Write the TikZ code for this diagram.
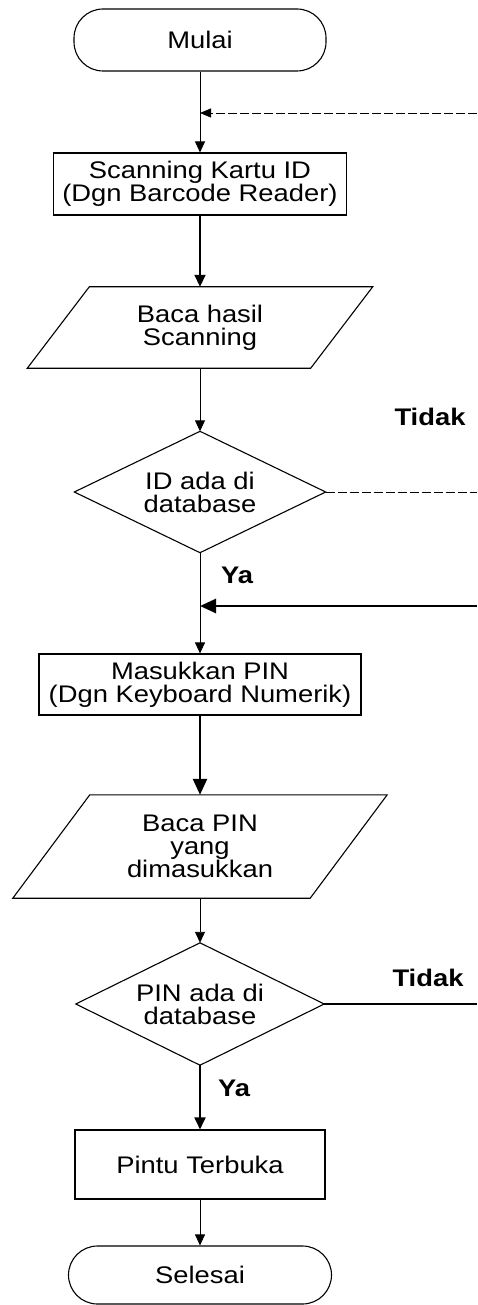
\documentclass[tikz,border=0pt]{standalone}
\usepackage{fontspec}
\setmainfont{Liberation Sans}[FakeStretch=1.14]
\usetikzlibrary{arrows.meta}
\begin{document}
\begin{tikzpicture}[x=1pt,y=-1pt,
  font=\fontsize{24}{23}\selectfont,
  box/.style={draw, line width=1.1pt, align=center, inner sep=0pt},
  term/.style={box, rounded corners=29pt},
  ghost/.style={align=center, inner sep=0pt},
  outline/.style={line width=1.1pt, line join=miter},
  thinarrow/.style={line width=0.9pt, -{Triangle[length=11pt,width=10pt]}},
  medarrow/.style={line width=1.8pt, -{Triangle[length=12pt,width=11pt]}},
  thickarrow/.style={line width=2.6pt, -{Triangle[length=16pt,width=14pt]}},
  backarrow/.style={line width=0.8pt, dash pattern=on 9pt off 3pt, -{Triangle[length=11pt,width=9pt]}},
  backline/.style={line width=0.8pt, dash pattern=on 9pt off 3pt},
  thickline/.style={line width=2.6pt},
  lbl/.style={font=\fontsize{24}{23}\selectfont\bfseries}
]
\useasboundingbox (0,0) rectangle (477,1305);

% nodes
\node[term, minimum width=252pt, minimum height=62pt] (mulai) at (200,40) {Mulai};
\node[box, minimum width=293pt, minimum height=62pt] (scan) at (200,184) {Scanning Kartu ID\\(Dgn Barcode Reader)};
\node[ghost, minimum width=283pt, minimum height=81pt] (bacah) at (200,327.5) {Baca hasil\\Scanning};
\draw[outline] ([xshift=31pt]bacah.north west) -- ([xshift=31pt]bacah.north east)
  -- ([xshift=-31pt]bacah.south east) -- ([xshift=-31pt]bacah.south west) -- cycle;
\node[ghost, minimum width=251pt, minimum height=121pt] (idq) at (200,492) {ID ada di\\database};
\draw[outline] (idq.north) -- (idq.east) -- (idq.south) -- (idq.west) -- cycle;
\node[box, minimum width=322pt, minimum height=61pt] (masuk) at (200,684.5) {Masukkan PIN\\(Dgn Keyboard Numerik)};
\node[ghost, minimum width=297pt, minimum height=103pt] (bacap) at (200,846.5) {Baca PIN\\yang\\dimasukkan};
\draw[outline] ([xshift=38.5pt]bacap.north west) -- ([xshift=38.5pt]bacap.north east)
  -- ([xshift=-38.5pt]bacap.south east) -- ([xshift=-38.5pt]bacap.south west) -- cycle;
\node[ghost, minimum width=248pt, minimum height=122pt] (pinq) at (200,1004) {PIN ada di\\database};
\draw[outline] (pinq.north) -- (pinq.east) -- (pinq.south) -- (pinq.west) -- cycle;
\node[box, minimum width=250pt, minimum height=69pt] (pintu) at (200,1164.5) {Pintu Terbuka};
\node[term, minimum width=263pt, minimum height=58pt] (selesai) at (200,1275) {Selesai};

% labels
\node[lbl] (t1) at (430,417) {Tidak};
\node[lbl] (y1) at (237,575) {Ya};
\node[lbl] (t2) at (428,978) {Tidak};
\node[lbl] (y2) at (234,1088) {Ya};

% free ends
\coordinate (r1) at (477,113); \coordinate (j1) at (200,113);
\coordinate (r2) at (477,492);
\coordinate (r3) at (477,606); \coordinate (j3) at (200,606);
\coordinate (r4) at (477,1004);

% connectors
\draw[thinarrow] (mulai.south) -- (scan.north);
\draw[backarrow] (r1) -- (j1);
\draw[medarrow] (scan.south) -- (bacah.north);
\draw[thinarrow] (bacah.south) -- (idq.north);
\draw[backline] (idq.east) -- (r2);
\draw[thinarrow] (idq.south) -- (masuk.north);
\draw[thickarrow] (r3) -- (j3);
\draw[thickarrow] (masuk.south) -- (bacap.north);
\draw[thinarrow] (bacap.south) -- (pinq.north);
\draw[thickline] (pinq.east) -- (r4);
\draw[medarrow] (pinq.south) -- (pintu.north);
\draw[thinarrow] (pintu.south) -- (selesai.north);
\end{tikzpicture}
\end{document}
